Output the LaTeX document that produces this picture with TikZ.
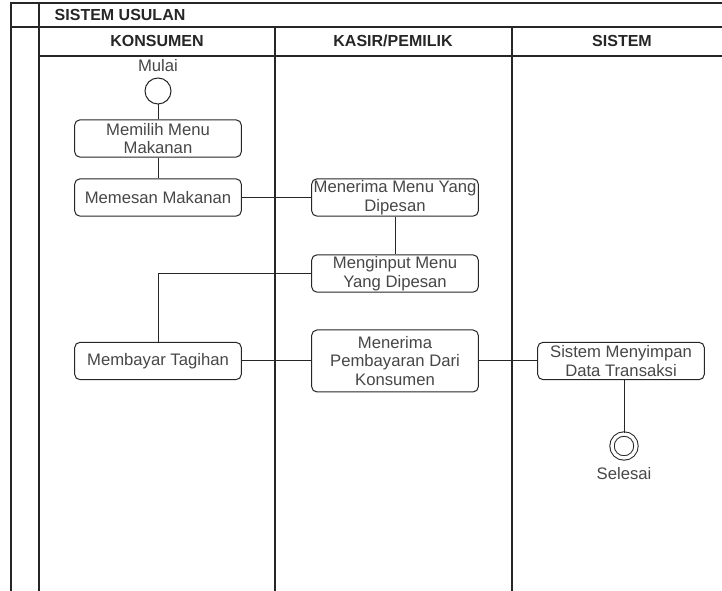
\documentclass[tikz,border=0pt]{standalone}
\usepackage{fontspec}
\setmainfont{Liberation Sans}
\usetikzlibrary{positioning,calc}

\begin{document}
\begin{tikzpicture}[
  x=0.75pt, y=-0.75pt, font=\fontsize{12.5}{14}\selectfont,
  lane/.style={line width=1pt, black!85},
  judul/.style={font=\fontsize{12}{14}\selectfont\bfseries, text=black!85},
  act/.style={draw=black!85, rounded corners=4pt, align=center, fill=white, text=black!72,
              minimum width=125pt, minimum height=28pt, inner xsep=0.5pt, inner ysep=1pt, line width=0.75pt},
  awal/.style={circle, draw=black!85, line width=0.75pt, minimum size=19.5pt, inner sep=0pt},
  akhir/.style={circle, draw=black!85, line width=0.75pt, double, double distance=2.5pt, minimum size=18pt, inner sep=0pt},
  ket/.style={text=black!72, label distance=2pt},
  flow/.style={line width=0.75pt, black!85}
]
\clip (0,0) rectangle (722,591);

% swimlane frame
\draw[lane] (11,3) rectangle (733,600);
\draw[lane] (39,3) -- (39,600);
\draw[lane] (11,27) -- (733,27);
\draw[lane] (39,56) -- (733,56);
\draw[lane] (275,27) -- (275,600);
\draw[lane] (512,27) -- (512,600);

% headers
\node[judul, anchor=west] (pool) at (50,15) {SISTEM USULAN};
\node[judul] (konsumen) at (157,41) {KONSUMEN};
\node[judul] (kasir) at (393,41) {KASIR/PEMILIK};
\node[judul] (sistem) at (622,41) {SISTEM};

% activities
\node[awal, label={[ket, label distance=2pt, inner sep=2pt]above:Mulai}] (mulai) at (158,91) {};
\node[act] (pilih) at (158,138.5) {Memilih Menu\\Makanan};
\node[act] (pesan) at (158,197.5) {Memesan Makanan};
\node[act] (terima) at (395,197.5) {Menerima Menu Yang\\Dipesan};
\node[act] (input) at (395,273.5) {Menginput Menu\\Yang Dipesan};
\node[act] (bayar) at (158,361) {Membayar Tagihan};
\node[act, minimum height=46.5pt] (terimabayar) at (395,361) {Menerima\\Pembayaran Dari\\Konsumen};
\node[act] (simpan) at (621,361) {Sistem Menyimpan\\Data Transaksi};
\node[akhir, label={[ket, label distance=3pt]below:Selesai}] (selesai) at (624,446) {};

% flow
\draw[flow] (mulai) -- (pilih);
\draw[flow] (pilih) -- (pesan);
\draw[flow] (pesan) -- (terima);
\draw[flow] (terima) -- (input);
\draw[flow] (input.west) -| (bayar.north);
\draw[flow] (bayar) -- (terimabayar);
\draw[flow] (terimabayar) -- (simpan);
\draw[flow] (simpan.south -| selesai) -- (selesai.north);
\end{tikzpicture}
\end{document}
